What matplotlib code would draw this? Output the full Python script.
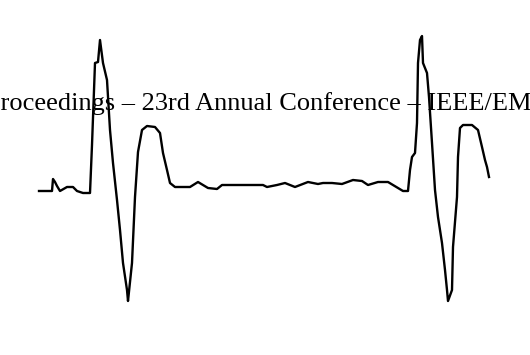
import matplotlib.pyplot as plt

# traced waveform (sample position, amplitude in image units; larger = lower)
t = [39, 52, 53, 55, 57, 60, 67, 73, 77, 83, 90, 92, 95, 98, 100, 103, 107, 110,
     113, 117, 120, 123, 127, 128, 132, 135, 138, 142, 147, 155, 160, 163, 167,
     170, 175, 190, 198, 208, 217, 222, 263, 267, 277, 285, 295, 308, 318, 323,
     332, 342, 353, 362, 368, 378, 388, 398, 403, 408, 410, 412, 415, 417, 418,
     420, 422, 423, 427, 429, 432, 435, 438, 442, 445, 447, 448, 452, 453, 457,
     458, 460, 463, 472, 478, 482, 485, 487, 489]
v = [191, 191, 179, 182, 186, 191, 187, 187, 191, 193, 193, 145, 63, 62, 40, 63,
     80, 130, 163, 200, 230, 263, 290, 301, 263, 197, 152, 130, 126, 127, 133,
     153, 170, 183, 187, 187, 182, 188, 189, 185, 185, 187, 185, 183, 187, 182,
     184, 183, 183, 184, 180, 181, 185, 182, 182, 188, 191, 191, 170, 157, 153,
     123, 63, 40, 36, 63, 73, 97, 143, 190, 217, 243, 270, 290, 301, 290, 247,
     197, 157, 128, 125, 125, 130, 147, 160, 167, 177]

header = "Proceedings – 23rd Annual Conference – IEEE/EMBS"

fig = plt.figure(figsize=(5.3, 3.55), dpi=100)
ax = fig.add_axes([0, 0, 1, 1])
ax.set_xlim(0, 530)
ax.set_ylim(355, 0)
ax.axis('off')

ax.text(-14, 110, header, fontsize=19, family='Liberation Serif',
        color='black', ha='left', va='baseline', zorder=1)
ax.plot(t, v, color='black', lw=1.7, zorder=2)

fig.savefig('out.png', dpi=100, facecolor='white')
